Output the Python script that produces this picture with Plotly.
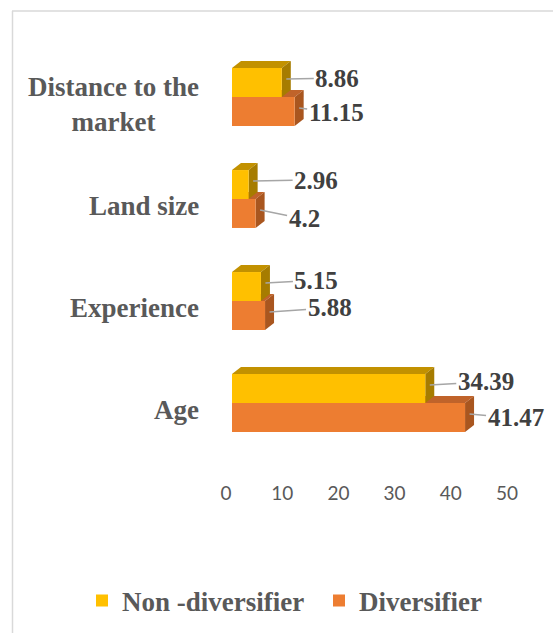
import plotly.graph_objects as go

# ---- data ----
categories = ["Age", "Experience", "Land size", "Distance to the<br>market"]
non_diversifier = [34.39, 5.15, 2.96, 8.86]
diversifier = [41.47, 5.88, 4.2, 11.15]
x_ticks = [0, 10, 20, 30, 40, 50]

# ---- style ----
YEL, YEL_TOP, YEL_SIDE = "#FFC000", "#C29100", "#A67C00"
ORA, ORA_TOP, ORA_SIDE = "#ED7D31", "#C0632A", "#A9561F"
SERIF = "Liberation Serif"
L, T = 232, 30
PW, PH = 281, 450
W, H = 553, 633
BW = 0.284          # bar thickness (y units)
DX, DY = 1.6, 0.069  # 3D depth offset in data units

pos = list(range(len(categories)))

fig = go.Figure()
fig.add_trace(go.Bar(orientation="h", x=non_diversifier, y=pos, offset=0, width=BW,
                     marker=dict(color=YEL, line=dict(width=0)), name="Non -diversifier"))
fig.add_trace(go.Bar(orientation="h", x=diversifier, y=pos, offset=-BW, width=BW,
                     marker=dict(color=ORA, line=dict(width=0)), name="Diversifier"))

shapes = []

def depth(v, y0, y1, top_col, side_col):
    top = f"M 0,{y1} L {v},{y1} L {v+DX},{y1+DY} L {DX},{y1+DY} Z"
    side = f"M {v},{y0} L {v},{y1} L {v+DX},{y1+DY} L {v+DX},{y0+DY} Z"
    out = []
    for p, c in ((top, top_col), (side, side_col)):
        out.append(dict(type="path", path=p, xref="x", yref="y", fillcolor=c,
                        line=dict(width=0), layer="below"))
    return out

for p, v in zip(pos, diversifier):
    shapes += depth(v, p - BW, p, ORA_TOP, ORA_SIDE)
for p, v in zip(pos, non_diversifier):
    shapes += depth(v, p, p + BW, YEL_TOP, YEL_SIDE)

# chart border (left and top edges visible)
px2x = lambda px: (px - L) / PW
py2y = lambda py: (T + PH - py) / PH
shapes.append(dict(type="line", xref="paper", yref="paper", x0=px2x(12.5), x1=px2x(12.5),
                   y0=py2y(11), y1=py2y(H + 5), line=dict(color="#D9D9D9", width=1.5)))
shapes.append(dict(type="line", xref="paper", yref="paper", x0=px2x(12), x1=px2x(W + 5),
                   y0=py2y(11), y1=py2y(11), line=dict(color="#D9D9D9", width=1.5)))

# data labels with leader lines (pixel offsets of the label from the bar end)
yel_off = [(56, -3), (51, -3), (63, -1), (51, -1)]
ora_off = [(46, 4), (60, -4), (44, 9), (37, 5)]
annotations = []
for series, off, yc in ((non_diversifier, yel_off, BW / 2), (diversifier, ora_off, -BW / 2)):
    for p, v, (ax, ay) in zip(pos, series, off):
        annotations.append(dict(
            x=v + DX / 2, y=p + yc + DY / 2, xref="x", yref="y",
            text=f"{v:g}", showarrow=True, arrowhead=0, arrowwidth=1.5,
            arrowcolor="#A6A6A6", ax=ax, ay=ay, standoff=0, startstandoff=0,
            font=dict(family=SERIF, size=25, color="#404040", weight=700)))

# category labels (centre-aligned, as in the original)
for p, c in zip(pos, categories):
    annotations.append(dict(
        x=px2x(201), xref="paper", xanchor="right", y=p, yref="y", yanchor="middle",
        yshift=-7, text=c, showarrow=False, align="center",
        font=dict(family=SERIF, size=27, color="#595959", weight=700)))

fig.update_layout(
    width=W, height=H,
    margin=dict(l=L, r=W - L - PW, t=T, b=H - T - PH, autoexpand=False),
    paper_bgcolor="white", plot_bgcolor="white",
    showlegend=True,
    legend=dict(orientation="h", x=px2x(82), xanchor="left", y=py2y(601), yanchor="middle",
                font=dict(family=SERIF, size=27, color="#595959", weight=700),
                traceorder="normal", itemwidth=30, entrywidth=192, entrywidthmode="pixels"),
    xaxis=dict(range=[0, 50], tickvals=x_ticks, showgrid=False, zeroline=False,
               showline=False, ticklabelshift=-6,
               tickfont=dict(family="Lato", size=19, color="#595959")),
    yaxis=dict(range=[-0.755, 3.657], tickvals=pos, showticklabels=False,
               showgrid=False, zeroline=False, showline=False),
    shapes=shapes, annotations=annotations,
)

fig.write_html("out.html")
